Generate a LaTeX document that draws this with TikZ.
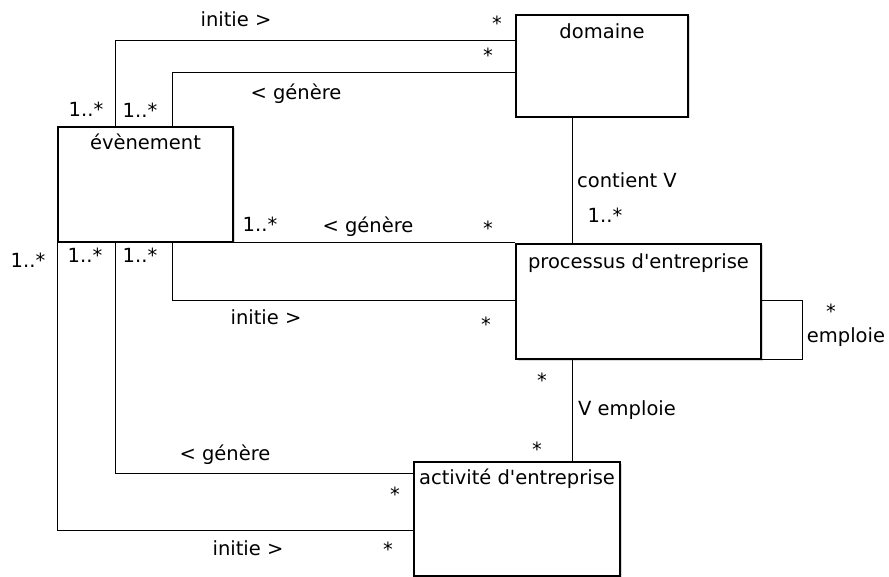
\documentclass[tikz,border=0pt]{standalone}
\usepackage{fontspec}
\setmainfont{DejaVu Sans}
\usetikzlibrary{shadows}
\begin{document}
\begin{tikzpicture}[x=1pt,y=-1pt,
    classe/.style={draw, line width=1.2pt, fill=white, inner sep=0pt,
      drop shadow={shadow xshift=1.5pt, shadow yshift=-1.5pt, opacity=0.3}},
    titre/.style={anchor=base, inner sep=0pt, font=\fontsize{19.5}{22}\selectfont},
    lien/.style={line width=1.1pt},
    etiq/.style={inner sep=0pt, text height=14pt, text depth=4pt,
      font=\fontsize{19.5}{22}\selectfont}]
\useasboundingbox (0,0) rectangle (889,577);

% Classes
\node [classe, minimum width=175pt, minimum height=115pt] (ev) at (145.5,184.5) {};
\node [titre] (evT) at ([yshift=-23pt]ev.north) {évènement};

\node [classe, minimum width=172pt, minimum height=102pt] (dom) at (602,66) {};
\node [titre] (domT) at ([yshift=-24pt]dom.north) {domaine};

\node [classe, minimum width=245pt, minimum height=115pt] (proc) at (638.5,301.5) {};
\node [titre] (procT) at ([yshift=-25pt]proc.north) {processus d\textquotesingle entreprise};

\node [classe, minimum width=206pt, minimum height=114pt] (act) at (517,519) {};
\node [titre] (actT) at ([yshift=-23pt]act.north) {activité d\textquotesingle entreprise};

% Drawing association evenement domaine (initie)
\draw [lien] ([xshift=58pt]ev.north west) |- ([yshift=-26pt]dom.north west);
\node [etiq] (l1) at (236,22) {initie >};
\node [etiq] (m1a) at (86,112) {1..*};
\node [etiq] (m1b) at (497,26) {*};

% Drawing association evenement domaine (genere)
\draw [lien] ([xshift=115pt]ev.north west) |- ([yshift=-58pt]dom.north west);
\node [etiq] (l2) at (296,95) {< génère};
\node [etiq] (m2a) at (140,113) {1..*};
\node [etiq] (m2b) at (488,58) {*};

% Drawing association domaine processus (contient)
\draw [lien] ([xshift=57pt]dom.south west) -- ([xshift=57pt]proc.north west);
\node [etiq, anchor=west] (l3) at (577,183) {contient V};
\node [etiq] (m3) at (605,218) {1..*};

% Drawing association evenement processus (genere)
\draw [lien] (ev.south east) -- (ev.south east -| proc.north west);
\node [etiq] (l4) at (368,228) {< génère};
\node [etiq] (m4a) at (260,227) {1..*};
\node [etiq] (m4b) at (488,231) {*};

% Drawing association evenement processus (initie)
\draw [lien] ([xshift=115pt]ev.south west) |- ([yshift=-57pt]proc.north west);
\node [etiq] (l5) at (266,320) {initie >};
\node [etiq] (m5a) at (140,258) {1..*};
\node [etiq] (m5b) at (486,326) {*};

% Drawing association evenement activite (genere)
\draw [lien] ([xshift=58pt]ev.south west) |- ([yshift=-12pt]act.north west);
\node [etiq] (l6) at (225,455) {< génère};
\node [etiq] (m6a) at (85,258) {1..*};
\node [etiq] (m6b) at (395,496) {*};

% Drawing association evenement activite (initie)
\draw [lien] (ev.south west) |- ([yshift=-69pt]act.north west);
\node [etiq] (l7) at (248,550) {initie >};
\node [etiq] (m7a) at (28,263) {1..*};
\node [etiq] (m7b) at (388,551) {*};

% Drawing association processus activite (emploie)
\draw [lien] ([xshift=57pt]proc.south west) -- ([xshift=159pt]act.north west);
\node [etiq, anchor=west] (l8) at (578,410) {V emploie};
\node [etiq] (m8a) at (542,383) {*};
\node [etiq] (m8b) at (537,451) {*};

% Drawing association processus processus (emploie)
\draw [lien] ([yshift=-57pt]proc.north east) -- ++(41,0) |- (proc.south east);
\node [etiq, text depth=0pt] (m9) at (831,312) {*};
\node [etiq] (l9) at (846,337) {emploie};
\end{tikzpicture}
\end{document}
